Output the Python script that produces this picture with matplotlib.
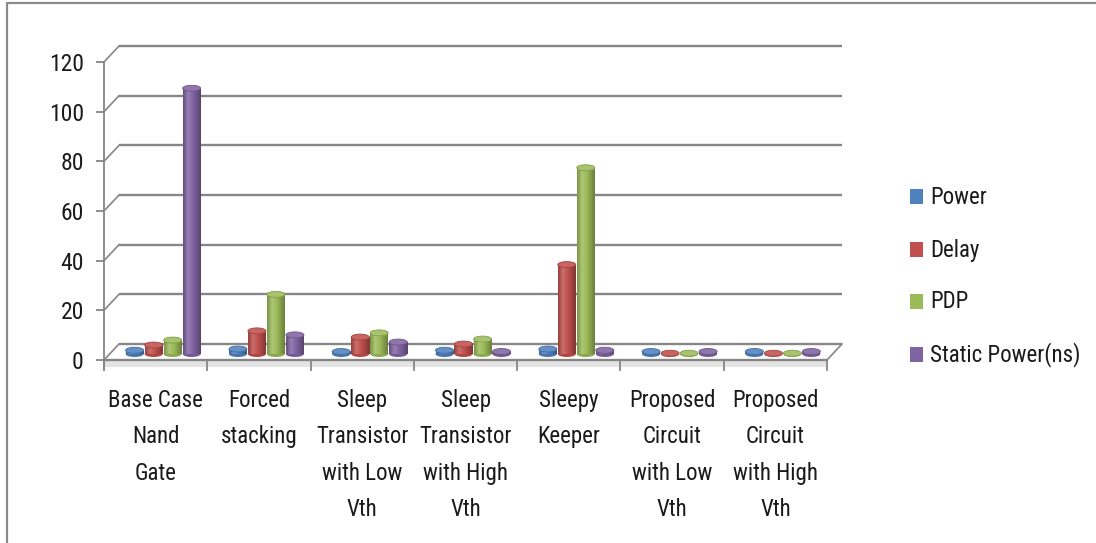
import numpy as np
import matplotlib
matplotlib.use("Agg")
import matplotlib.pyplot as plt
from matplotlib.patches import Rectangle, Ellipse
from matplotlib.colors import LinearSegmentedColormap, to_rgb

# ---- data ----
categories = [
    "Base Case\nNand\nGate",
    "Forced\nstacking",
    "Sleep\nTransistor\nwith Low\nVth",
    "Sleep\nTransistor\nwith High\nVth",
    "Sleepy\nKeeper",
    "Proposed\nCircuit\nwith Low\nVth",
    "Proposed\nCircuit\nwith High\nVth",
]
series_names = ["Power", "Delay", "PDP", "Static Power(ns)"]
power = [1.5, 2.0, 1.0, 1.5, 2.0, 1.0, 1.0]
delay = [3.6, 9.3, 6.8, 4.0, 36.0, 0.3, 0.3]
pdp = [5.6, 24.0, 8.5, 6.0, 75.0, 0.3, 0.3]
static_power = [107.0, 7.7, 4.8, 1.0, 1.5, 1.0, 1.0]
y_ticks = [0, 20, 40, 60, 80, 100, 120]

series_values = [power, delay, pdp, static_power]
colors = ["#4F81BD", "#C0504D", "#9BBB59", "#8064A2"]

FONT = ["Roboto Condensed", "DejaVu Sans Condensed", "Liberation Sans Narrow",
        "Roboto", "DejaVu Sans"]
TEXT_COLOR = "#1a1a1a"
GRID_COLOR = "#868686"

W, H = 1096, 543
fig = plt.figure(figsize=(W / 100, H / 100), dpi=100)

# background layer in pixel units: outer frame and legend
bg = fig.add_axes([0, 0, 1, 1])
bg.set_xlim(0, W)
bg.set_ylim(H, 0)
bg.axis("off")
bg.plot([7, 7, W], [H, 3, 3], color="#8a8a8a", lw=1.6, solid_capstyle="butt")

# ---- plot area ----
px0, px1, py0, py1 = 104, 827, 360, 62
ax = fig.add_axes([px0 / W, 1 - py0 / H, (px1 - px0) / W, (py0 - py1) / H])
n_cat = len(categories)
ax.set_xlim(0, n_cat)
ax.set_ylim(0, 120)
ax.patch.set_visible(False)

# pixel -> data unit conversion for the pseudo-3D depth
ux = (px1 - px0) / n_cat
uy = (py0 - py1) / 120.0
DX, DY = 15 / ux, 16 / uy          # back wall offset
MX, MY = 7.5 / ux, 6 / uy          # bar row depth offset
FT = 7 / uy                        # floor thickness

lw_grid = 1.7
# back wall gridlines and side-wall connectors
for y in y_ticks:
    ax.plot([DX, n_cat + DX], [y + DY, y + DY], color=GRID_COLOR, lw=lw_grid,
            clip_on=False, zorder=1, solid_capstyle="butt")
    ax.plot([0, DX], [y, y + DY], color=GRID_COLOR, lw=1.2, clip_on=False, zorder=1)

# floor
ax.add_patch(Rectangle((0, -FT), n_cat, FT, facecolor="#e4e4e4", edgecolor="none",
                       clip_on=False, zorder=1))
ax.plot([0, n_cat], [0, 0], color=GRID_COLOR, lw=lw_grid, clip_on=False, zorder=2)
ax.plot([n_cat, n_cat + DX], [0, DY], color=GRID_COLOR, lw=1.2, clip_on=False, zorder=2)
for k in range(n_cat + 1):
    ax.plot([k, k], [0, -10 / uy], color=GRID_COLOR, lw=1.3, clip_on=False, zorder=2)

# axes styling
for s in ["top", "right", "bottom"]:
    ax.spines[s].set_visible(False)
ax.spines["left"].set_color(GRID_COLOR)
ax.spines["left"].set_linewidth(1.3)
ax.spines["left"].set_bounds(-10 / uy, 120)
ax.set_xticks([])
ax.set_yticks(y_ticks)
ax.set_yticklabels([str(t) for t in y_ticks])
ax.tick_params(axis="y", length=5.5, width=1.3, color=GRID_COLOR, pad=9,
               labelsize=17, labelcolor=TEXT_COLOR)
for lbl in ax.get_yticklabels():
    lbl.set_family(FONT)
    lbl.set_stretch("condensed")

# category labels
for i, cat in enumerate(categories):
    ax.text(i + 0.5, -0.097, cat, transform=ax.get_xaxis_transform(),
            ha="center", va="top", multialignment="center", fontsize=16.5,
            family=FONT, stretch="condensed", color=TEXT_COLOR, linespacing=1.74)


def lighten(c, f):
    r = np.array(to_rgb(c))
    return tuple(r + (1 - r) * f)


def darken(c, f):
    return tuple(np.array(to_rgb(c)) * f)


# cylinders
BW = 18 / ux
STEP = 19 / ux
EH = 6.0 / uy
for i in range(n_cat):
    for j, (vals, col) in enumerate(zip(series_values, colors)):
        v = vals[i]
        xc = i + 0.5 + (j - 1.5) * STEP + MX
        base = MY
        top = MY + v
        z = 3 + i * 0.1 + j * 0.01
        cmap = LinearSegmentedColormap.from_list(
            "cyl", [(0.0, darken(col, 0.78)), (0.28, lighten(col, 0.18)),
                    (0.55, to_rgb(col)), (1.0, darken(col, 0.68))])
        ax.add_patch(Ellipse((xc, base), BW, EH, facecolor=darken(col, 0.9),
                             edgecolor="none", clip_on=False, zorder=z))
        if v > 0:
            grad = np.linspace(0, 1, 64).reshape(1, -1)
            ax.imshow(grad, cmap=cmap, extent=[xc - BW / 2, xc + BW / 2, base, top],
                      aspect="auto", interpolation="bilinear", zorder=z + 0.001,
                      clip_on=False)
        ax.add_patch(Ellipse((xc, top), BW, EH, facecolor=lighten(col, 0.12),
                             edgecolor=darken(col, 0.85), lw=0.6,
                             clip_on=False, zorder=z + 0.002))

ax.set_xlim(0, n_cat)
ax.set_ylim(0, 120)

# legend
leg_y = [197, 250, 302, 355]
for name, col, ly in zip(series_names, colors, leg_y):
    bg.add_patch(Rectangle((910, ly - 8), 13, 15, facecolor=col, edgecolor="none"))
    bg.text(930, ly, name, ha="left", va="center", fontsize=16.5, family=FONT,
            stretch="condensed", color=TEXT_COLOR)

fig.savefig("out.png", dpi=100)
